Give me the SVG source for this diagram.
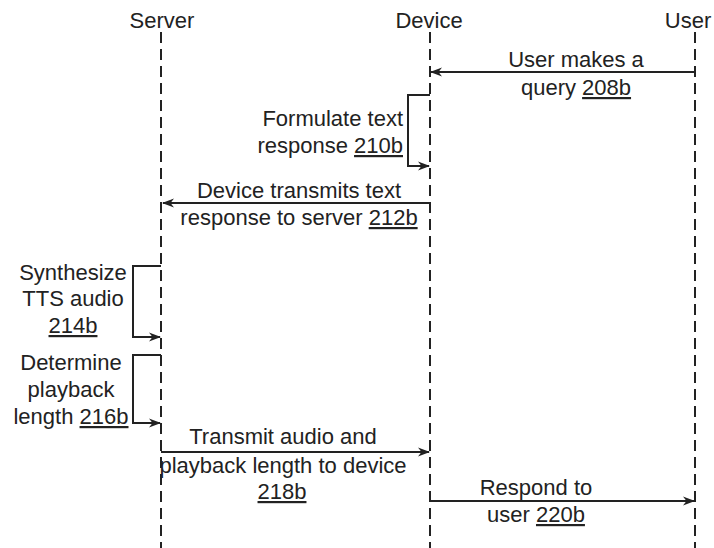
<svg xmlns="http://www.w3.org/2000/svg" width="714" height="548" viewBox="0 0 714 548">
<style>
text{font-family:"Liberation Sans",Arial,sans-serif;font-size:22px;fill:#222}
.m{text-anchor:middle}
.e{text-anchor:end}
.u{text-decoration:underline}
.life{stroke:#222;stroke-width:2;stroke-dasharray:11 6;fill:none}
.arr{stroke:#222;stroke-width:2;fill:none;marker-end:url(#ah)}
</style>
<defs>
<marker id="ah" markerWidth="12" markerHeight="10" refX="11" refY="5" orient="auto" markerUnits="userSpaceOnUse">
<path d="M0,0.5 L12,5 L0,9.5 L3.5,5 z" fill="#222"/>
</marker>
</defs>
<rect width="714" height="548" fill="#fff"/>
<g id="server">
<text class="m" x="162" y="28">Server</text>
<line class="life" x1="161" y1="32" x2="161" y2="548"/>
</g>
<g id="device">
<text class="m" x="429" y="28">Device</text>
<line class="life" x1="430" y1="32" x2="430" y2="548"/>
</g>
<g id="user">
<text class="m" x="688" y="28">User</text>
<line class="life" x1="695" y1="32" x2="695" y2="548"/>
</g>
<g id="connectors">
<line class="arr" x1="695" y1="72" x2="431" y2="72"/>
<path class="arr" d="M430,95 H408 V166 H429"/>
<line class="arr" x1="430" y1="203" x2="163" y2="203"/>
<path class="arr" d="M161,266 H133 V337 H160"/>
<path class="arr" d="M161,355 H133 V423 H160"/>
<line class="arr" x1="161" y1="452" x2="429" y2="452"/>
<line class="arr" x1="430" y1="501" x2="694" y2="501"/>
</g>
<g id="label-208b">
<text class="m" x="576" y="67">User makes a</text>
<text class="m" x="576" y="95">query <tspan class="u">208b</tspan></text>
</g>
<g id="label-210b">
<text class="e" x="403" y="126">Formulate text</text>
<text class="e" x="403" y="153">response <tspan class="u">210b</tspan></text>
</g>
<g id="label-212b">
<text class="m" x="299" y="198">Device transmits text</text>
<text class="m" x="299" y="225">response to server <tspan class="u">212b</tspan></text>
</g>
<g id="label-214b">
<text class="m" x="73" y="280">Synthesize</text>
<text class="m" x="73" y="306">TTS audio</text>
<text class="m u" x="73" y="333">214b</text>
</g>
<g id="label-216b">
<text class="m" x="71" y="370">Determine</text>
<text class="m" x="71" y="397">playback</text>
<text class="m" x="71" y="424">length <tspan class="u">216b</tspan></text>
</g>
<g id="label-218b">
<text class="m" x="283" y="444">Transmit audio and</text>
<text class="m" x="283" y="473">playback length to device</text>
<text class="m u" x="282" y="499">218b</text>
</g>
<g id="label-220b">
<text class="m" x="536" y="495">Respond to</text>
<text class="m" x="536" y="522">user <tspan class="u">220b</tspan></text>
</g>
</svg>
